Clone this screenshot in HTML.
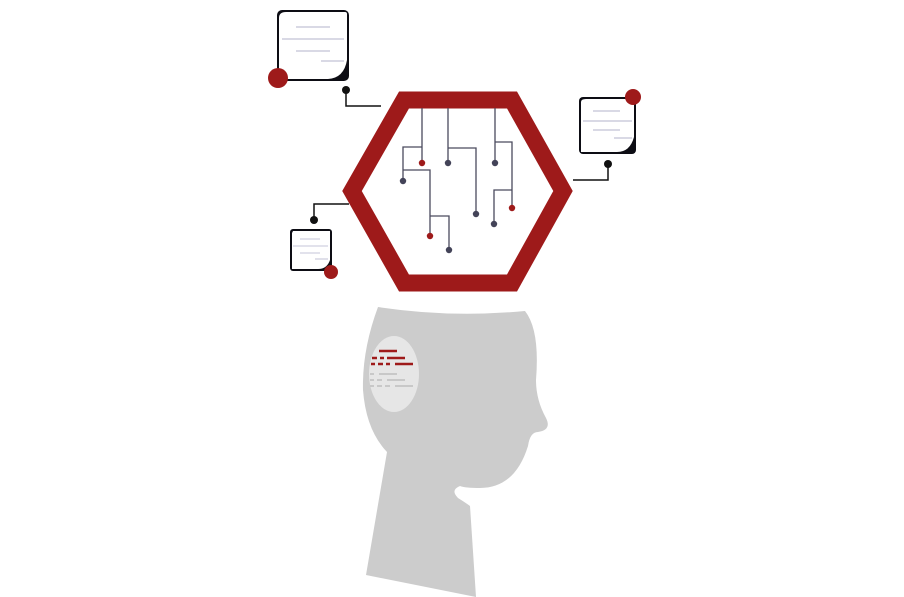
<!DOCTYPE html>
<html><head><style>html,body{margin:0;padding:0;background:#fff}svg{display:block}</style></head>
<body>
<svg width="904" height="597" viewBox="0 0 904 597" xmlns="http://www.w3.org/2000/svg">
<!-- head -->
<path d="M378,307 Q450,318 525,311 Q540,330 536,380 Q536,400 546,418 Q552,430 538,432 Q530,432 528,446 Q515,488 480,488 Q465,488 460,486 Q450,490 458,498 Q466,503 470,506 L476,597 L366,575 L387,452 Q366,430 363,390 Q362,350 378,307 Z" fill="#cccccc"/>
<ellipse cx="394" cy="374" rx="25" ry="38" fill="#e6e6e6"/>
<g stroke="#9e1a1a" stroke-width="2.5">
<line x1="379" y1="351" x2="397" y2="351"/>
<line x1="372" y1="358" x2="377" y2="358"/><line x1="380" y1="358" x2="384" y2="358"/><line x1="387" y1="358" x2="405" y2="358"/>
<line x1="371" y1="364" x2="375" y2="364"/><line x1="378" y1="364" x2="383" y2="364"/><line x1="386" y1="364" x2="390" y2="364"/><line x1="395" y1="364" x2="413" y2="364"/>
</g>
<g stroke="#c8c8c8" stroke-width="2">
<line x1="370" y1="374" x2="374" y2="374"/><line x1="379" y1="374" x2="397" y2="374"/>
<line x1="370" y1="380" x2="374" y2="380"/><line x1="377" y1="380" x2="382" y2="380"/><line x1="387" y1="380" x2="405" y2="380"/>
<line x1="370" y1="386" x2="374" y2="386"/><line x1="377" y1="386" x2="382" y2="386"/><line x1="385" y1="386" x2="390" y2="386"/><line x1="395" y1="386" x2="413" y2="386"/>
</g>
<!-- hexagon -->
<polygon points="404,100 512,100 563,191 512,283 404,283 352,191" fill="none" stroke="#9e1a1a" stroke-width="17" stroke-linejoin="miter"/>
<!-- circuit -->
<g fill="none" stroke="#4a4a5e" stroke-width="1.3">
<path d="M422,108 V163 M422,147 H403 V181 M403,170 H430 V236 M430,216 H449 V250"/>
<path d="M448,108 V163 M448,148 H476 V214"/>
<path d="M495,108 V163 M495,142 H512 V208 M512,190 H494 V224"/>
</g>
<g fill="#434358">
<circle cx="403" cy="181" r="3.2"/><circle cx="449" cy="250" r="3.2"/><circle cx="448" cy="163" r="3.2"/><circle cx="476" cy="214" r="3.2"/><circle cx="495" cy="163" r="3.2"/><circle cx="494" cy="224" r="3.2"/>
</g>
<g fill="#9e1a1a"><circle cx="422" cy="163" r="3.2"/><circle cx="430" cy="236" r="3.2"/><circle cx="512" cy="208" r="3.2"/></g>
<!-- connectors -->
<g fill="none" stroke="#111" stroke-width="1.5">
<path d="M346,90 V106 H381"/><path d="M573,180 H608 V164"/><path d="M349,204 H314 V220"/>
</g>
<g fill="#111"><circle cx="346" cy="90" r="4"/><circle cx="608" cy="164" r="4"/><circle cx="314" cy="220" r="4"/></g>
<!-- note top-left -->
<rect x="277" y="10" width="72" height="71" rx="5" fill="#0d0d14"/>
<path d="M282,12 H345 Q347,12 347,14 V60 Q344,78 328,79 H279 V18 Q279,12 286,12 Z" fill="#fff"/>
<g stroke="#d9d9e5" stroke-width="2"><line x1="296" y1="27" x2="330" y2="27"/><line x1="282" y1="39" x2="344" y2="39"/><line x1="296" y1="51" x2="330" y2="51"/><line x1="321" y1="61" x2="344" y2="61"/></g>
<circle cx="278" cy="78" r="10" fill="#9e1a1a"/>
<!-- note right -->
<rect x="579" y="97" width="57" height="57" rx="4" fill="#0d0d14"/>
<path d="M584,99 H634 V137 Q630,152 617,152 H581 V102 Q581,99 586,99 Z" fill="#fff"/>
<g stroke="#d9d9e5" stroke-width="2"><line x1="593" y1="111" x2="620" y2="111"/><line x1="583" y1="121" x2="632" y2="121"/><line x1="593" y1="130" x2="620" y2="130"/><line x1="614" y1="138" x2="632" y2="138"/></g>
<circle cx="633" cy="97" r="8" fill="#9e1a1a"/>
<!-- note small -->
<rect x="290" y="229" width="42" height="42" rx="3" fill="#0d0d14"/>
<path d="M293,231 H330 V260 Q327,269 318,269 H292 V233 Z" fill="#fff"/>
<g stroke="#d9d9e5" stroke-width="1.6"><line x1="300" y1="239" x2="320" y2="239"/><line x1="293" y1="246" x2="328" y2="246"/><line x1="300" y1="253" x2="320" y2="253"/><line x1="315" y1="259" x2="328" y2="259"/></g>
<circle cx="331" cy="272" r="7" fill="#9e1a1a"/>
</svg>
</body></html>
